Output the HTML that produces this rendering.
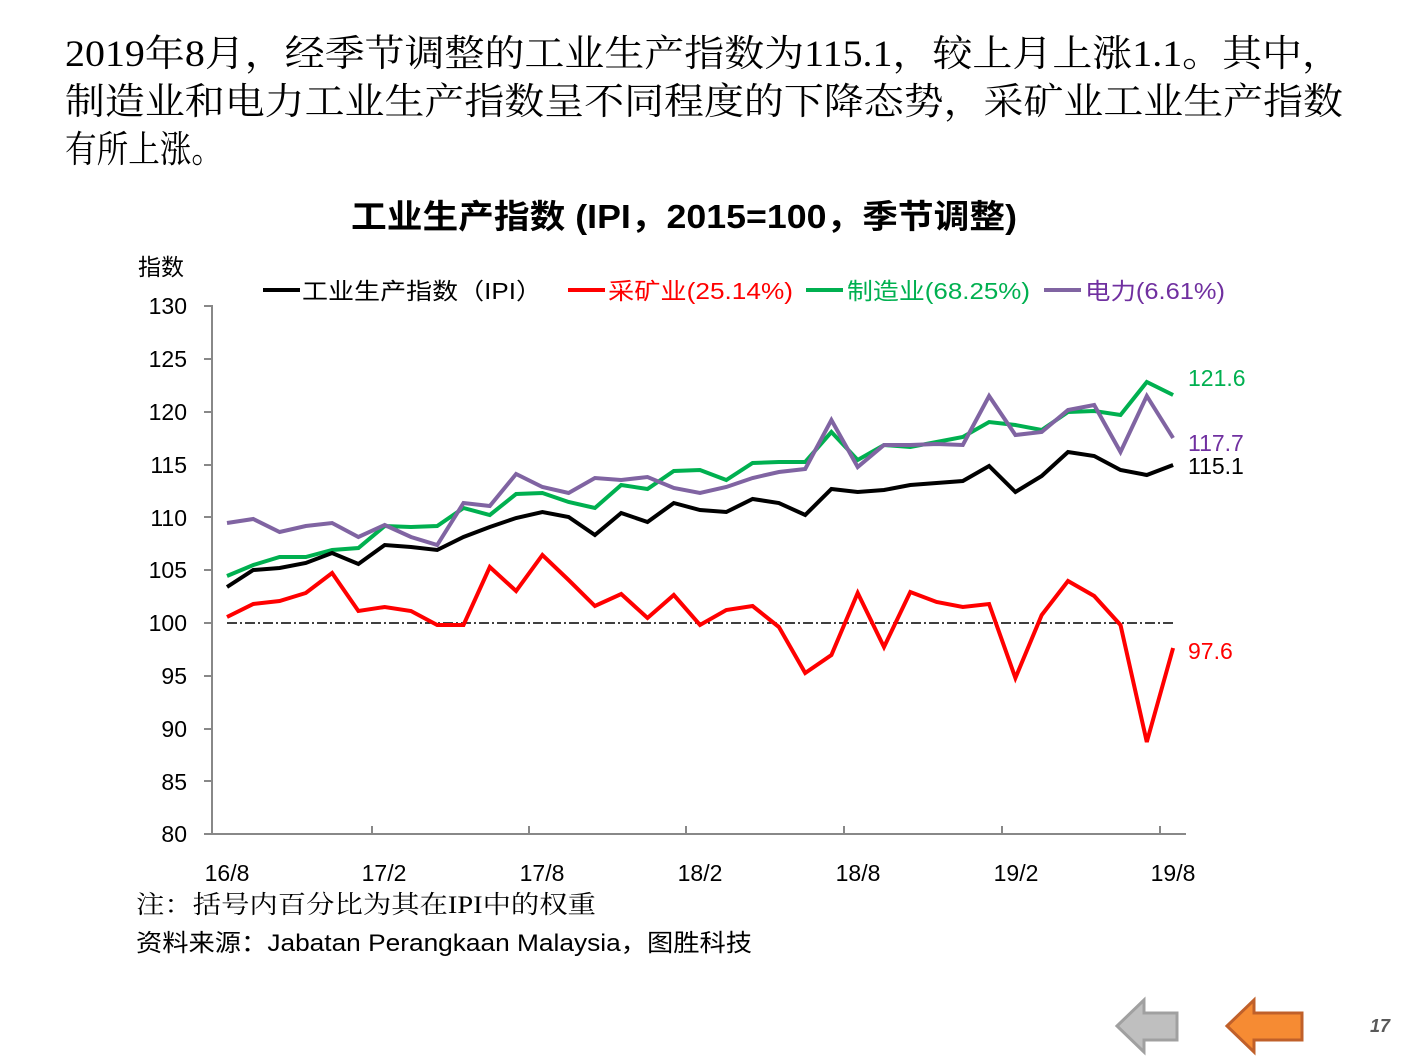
<!DOCTYPE html>
<html><head><meta charset="utf-8"><style>
html,body{margin:0;padding:0;background:#fff;}
svg{display:block;}
</style></head><body>
<svg id="s" width="1411" height="1058" xmlns="http://www.w3.org/2000/svg">
<g font-family="'Liberation Serif','Noto Serif CJK SC',serif" font-size="37" fill="#000">
<text x="65" y="66" textLength="1277" lengthAdjust="spacingAndGlyphs">2019年8月，经季节调整的工业生产指数为115.1，较上月上涨1.1。其中，</text>
<text x="65" y="114" textLength="1278" lengthAdjust="spacingAndGlyphs">制造业和电力工业生产指数呈不同程度的下降态势，采矿业工业生产指数</text>
<text x="65" y="162" textLength="158" lengthAdjust="spacingAndGlyphs">有所上涨。</text>
</g>
<text x="351" y="228" font-family="'Liberation Sans','Noto Sans CJK SC',sans-serif" font-weight="bold" font-size="33" textLength="666" lengthAdjust="spacingAndGlyphs">工业生产指数 (IPI，2015=100，季节调整)</text>
<g font-family="'Liberation Sans','Noto Sans CJK SC',sans-serif" font-size="23">
<text x="138" y="275">指数</text>
<g text-anchor="end">
<text x="187" y="314">130</text><text x="187" y="367">125</text><text x="187" y="420">120</text>
<text x="187" y="473">115</text><text x="187" y="526">110</text><text x="187" y="578">105</text>
<text x="187" y="631">100</text><text x="187" y="684">95</text><text x="187" y="737">90</text>
<text x="187" y="790">85</text><text x="187" y="842">80</text>
</g>
<g text-anchor="middle">
<text x="227" y="881">16/8</text><text x="384" y="881">17/2</text><text x="542" y="881">17/8</text>
<text x="700" y="881">18/2</text><text x="858" y="881">18/8</text><text x="1016" y="881">19/2</text>
<text x="1173" y="881">19/8</text>
</g>
<text x="1188" y="386" fill="#00B050">121.6</text>
<text x="1188" y="451" fill="#7030A0">117.7</text>
<text x="1188" y="474" fill="#000">115.1</text>
<text x="1188" y="659" fill="#FF0000">97.6</text>
<line x1="263" y1="290" x2="300" y2="290" stroke="#000" stroke-width="4"/>
<text x="302" y="299" fill="#000" textLength="240" lengthAdjust="spacingAndGlyphs">工业生产指数（IPI）</text>
<line x1="568" y1="290" x2="605" y2="290" stroke="#f00" stroke-width="4"/>
<text x="608" y="299" fill="#f00" textLength="185" lengthAdjust="spacingAndGlyphs">采矿业(25.14%)</text>
<line x1="806" y1="290" x2="843" y2="290" stroke="#00B050" stroke-width="4"/>
<text x="847" y="299" fill="#00B050" textLength="183" lengthAdjust="spacingAndGlyphs">制造业(68.25%)</text>
<line x1="1044" y1="290" x2="1081" y2="290" stroke="#8064A2" stroke-width="4"/>
<text x="1085" y="299" fill="#7030A0" textLength="140" lengthAdjust="spacingAndGlyphs">电力(6.61%)</text>
</g>
<g font-family="'Liberation Serif','Noto Serif CJK SC',serif" font-size="25">
<text x="136" y="913" textLength="460" lengthAdjust="spacingAndGlyphs">注：括号内百分比为其在IPI中的权重</text>
</g>
<text x="136" y="951" font-family="'Liberation Sans','Noto Sans CJK SC',sans-serif" font-size="24" textLength="616" lengthAdjust="spacingAndGlyphs">资料来源：Jabatan  Perangkaan Malaysia，图胜科技</text>
<g stroke="#888" stroke-width="2" fill="none">
<line x1="212" y1="305" x2="212" y2="834"/>
<line x1="211" y1="834" x2="1186" y2="834"/>
<line x1="204" y1="306" x2="212" y2="306"/><line x1="204" y1="359" x2="212" y2="359"/>
<line x1="204" y1="412" x2="212" y2="412"/><line x1="204" y1="465" x2="212" y2="465"/>
<line x1="204" y1="517" x2="212" y2="517"/><line x1="204" y1="570" x2="212" y2="570"/>
<line x1="204" y1="623" x2="212" y2="623"/><line x1="204" y1="676" x2="212" y2="676"/>
<line x1="204" y1="729" x2="212" y2="729"/><line x1="204" y1="781" x2="212" y2="781"/>
<line x1="204" y1="834" x2="212" y2="834"/>
<line x1="372" y1="826" x2="372" y2="834"/><line x1="529" y1="826" x2="529" y2="834"/>
<line x1="686" y1="826" x2="686" y2="834"/><line x1="844" y1="826" x2="844" y2="834"/>
<line x1="1002" y1="826" x2="1002" y2="834"/><line x1="1160" y1="826" x2="1160" y2="834"/>
</g>
<line x1="227" y1="623" x2="1173" y2="623" stroke="#000" stroke-width="1.5" stroke-dasharray="10,3,2,3"/>
<g id="lines" fill="none" stroke-width="4" stroke-linejoin="miter"></g>
<g stroke-width="3">
<polygon points="1117,1026 1144,1000 1144,1013 1177,1013 1177,1040 1144,1040 1144,1052" fill="#BFBFBF" stroke="#A0A0A0"/>
<polygon points="1227,1026 1254,1000 1254,1013 1302,1013 1302,1040 1254,1040 1254,1052" fill="#F68B33" stroke="#C0602A"/>
</g>
<text x="1370" y="1032" font-family="'Liberation Sans',sans-serif" font-weight="bold" font-style="italic" font-size="18" fill="#595959">17</text>
</svg>
<script>
var d={
"#00B050":[576,565,557,557,550,548,526,527,526,508,515,494,493,502,508,485,489,471,470,480,463,462,462,432,460,445,447,442,437,422,425,430,412,411,415,382,395],
"#8064A2":[523,519,532,526,523,537,525,537,545,503,506,474,487,493,478,480,477,488,493,487,478,472,469,420,467,445,445,444,445,396,435,432,410,405,452,396,438],
"#000000":[587,570,568,563,553,564,545,547,550,537,527,518,512,517,535,513,522,503,510,512,499,503,515,489,492,490,485,483,481,466,492,476,452,456,470,475,465],
"#FF0000":[617,604,601,593,573,611,607,611,625,625,567,591,555,580,606,594,618,595,625,610,606,627,673,655,593,647,592,602,607,604,678,615,581,596,625,742,648]};
var g=document.getElementById('lines');
for(var c in d){var p=d[c].map(function(y,i){return (227+i*26.28).toFixed(1)+','+y;}).join(' ');
var e=document.createElementNS('http://www.w3.org/2000/svg','polyline');e.setAttribute('points',p);e.setAttribute('stroke',c);g.appendChild(e);}
</script>
</body></html>
